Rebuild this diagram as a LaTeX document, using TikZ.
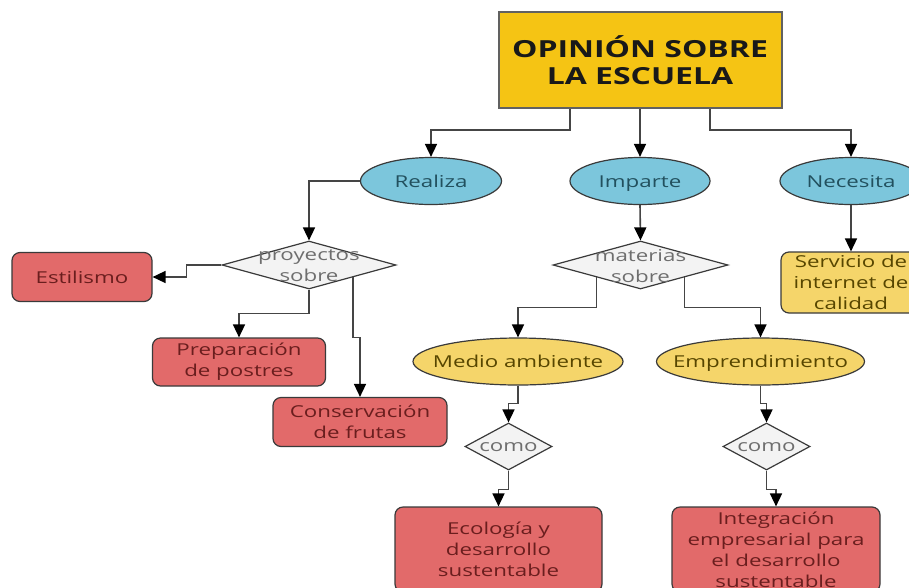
\documentclass[tikz,border=0pt]{standalone}
\usepackage{fontspec}
\setmainfont{Open Sans}[FakeStretch=1.36]
\usetikzlibrary{shapes.geometric,arrows.meta,calc}

\definecolor{titlef}{HTML}{F5C414}
\definecolor{bluef}{HTML}{7CC6DC}
\definecolor{bluet}{HTML}{22505E}
\definecolor{redf}{HTML}{E26A6A}
\definecolor{redt}{HTML}{6A1E1E}
\definecolor{yelf}{HTML}{F5D56A}
\definecolor{yelt}{HTML}{574600}
\definecolor{diaf}{HTML}{F3F3F3}
\definecolor{diat}{HTML}{6E6E6E}
\definecolor{edge}{HTML}{3A3A3A}
\definecolor{wire}{HTML}{454545}

\tikzset{
  nodefont/.style={font=\fontsize{16.4}{21}\selectfont},
  box/.style={draw=edge, line width=1.2pt, rounded corners=8pt, align=center,
    inner sep=0pt, nodefont},
  redbox/.style={box, fill=redf, text=redt},
  yelbox/.style={box, fill=yelf, text=yelt},
  oval/.style={ellipse, draw=edge, line width=1.2pt, inner sep=0pt},
  blueoval/.style={oval, fill=bluef, minimum width=141pt, minimum height=47pt},
  yeloval/.style={oval, fill=yelf, minimum height=47pt},
  dia/.style={diamond, draw=edge, line width=1.2pt, fill=diaf, inner sep=0pt},
  % one-line labels laid over shapes, centred on the capital height
  onetext/.style={inner sep=0pt, text height=12pt, text depth=0pt, nodefont},
  bluetext/.style={onetext, text=bluet},
  yeltext/.style={onetext, text=yelt},
  diatext/.style={text=diat, align=center, inner sep=0pt, nodefont},
  arr/.style={draw=wire, line width=1.6pt,
    -{Triangle[width=12pt,length=13pt,color=black]}},
}

\begin{document}
\begin{tikzpicture}[x=1pt,y=-1pt]
\useasboundingbox[fill=white] (0,0) rectangle (909,587);

% title
\node[draw=edge!80, line width=2pt, fill=titlef, text=black!90, align=center,
  minimum width=283pt, minimum height=96pt, inner sep=0pt,
  font=\bfseries\fontsize{23.5}{27}\selectfont] (title) at (640,60)
  {OPINIÓN SOBRE\\LA ESCUELA};

% first level
\node[blueoval] (realiza) at (431,181) {};
\node[bluetext] (realizat) at (431,181) {Realiza};
\node[blueoval, minimum width=140pt] (imparte) at (640,181) {};
\node[bluetext] (impartet) at (640,181) {Imparte};
\node[blueoval, minimum width=142pt] (necesita) at (851,181) {};
\node[bluetext] (necesitat) at (851,181) {Necesita};

% left branch
\node[dia, minimum width=174pt, minimum height=48pt] (d1) at (309,265) {};
\node[diatext] (d1t) at (309,266) {proyectos\\sobre};
\node[redbox, minimum width=140pt, minimum height=49pt, text height=12pt, text depth=0pt]
  (estil) at (82,277) {Estilismo};
\node[redbox, minimum width=173pt, minimum height=48pt] (prep) at (239,362) {Preparación\\de postres};
\node[redbox, minimum width=174pt, minimum height=49pt] (cons) at (360,422) {Conservación\\de frutas};

% middle branch
\node[dia, minimum width=175pt, minimum height=48pt] (d2) at (640.5,265) {};
\node[diatext] (d2t) at (640.5,266) {materias\\sobre};
\node[yeloval, minimum width=210pt] (medio) at (518,361.5) {};
\node[yeltext] (mediot) at (518,361.5) {Medio ambiente};
\node[yeloval, minimum width=208pt] (empr) at (760.5,361.5) {};
\node[yeltext] (emprt) at (760.5,361.5) {Emprendimiento};
\node[dia, minimum width=87pt, minimum height=47pt] (como1) at (508.5,446.5) {};
\node[diatext, text height=9pt, text depth=0pt] (como1t) at (508.5,446.5) {como};
\node[dia, minimum width=87pt, minimum height=47pt] (como2) at (766.5,446.5) {};
\node[diatext, text height=9pt, text depth=0pt] (como2t) at (766.5,446.5) {como};
\node[redbox, minimum width=207pt, minimum height=85pt] (eco) at (498.5,549.5)
  {Ecología y\\desarrollo\\sustentable};
\node[redbox, minimum width=208pt, minimum height=85pt] (integ) at (776,549.5)
  {Integración\\empresarial para\\el desarrollo\\sustentable};

% right branch
\node[yelbox, minimum width=140pt, minimum height=61pt] (serv) at (851,282.5)
  {Servicio de\\internet de\\calidad};

% connectors
\draw[arr] ($(title.south)+(-70,0)$) -- ++(0,21) -| (realiza.north);
\draw[arr] (title.south) -- (imparte.north);
\draw[arr] ($(title.south)+(70,0)$) -- ++(0,21) -| (necesita.north);

\draw[arr] (realiza.west) -| (d1.north);
\draw[arr] (d1.west) -- ++(-35,0) |- (estil.east);
\draw[arr] (d1.south) -- ++(0,24) -| (prep.north);
\draw[arr] (d1.south east) -- ++(0,60) -| (cons.north);

\draw[arr] (imparte.south) -- (d2.north);
\draw[arr] (d2.south west) -- ++(0,30) -| (medio.north);
\draw[arr] (d2.south east) -- ++(0,30) -| (empr.north);
\draw[arr] (medio.south) -- ++(0,18) -| (como1.north);
\draw[arr] (como1.south) -- ++(0,19) -| (eco.north);
\draw[arr] (empr.south) -- ++(0,18) -| (como2.north);
\draw[arr] (como2.south) -- ++(0,19) -| (integ.north);

\draw[arr] (necesita.south) -- (serv.north);
\end{tikzpicture}
\end{document}
